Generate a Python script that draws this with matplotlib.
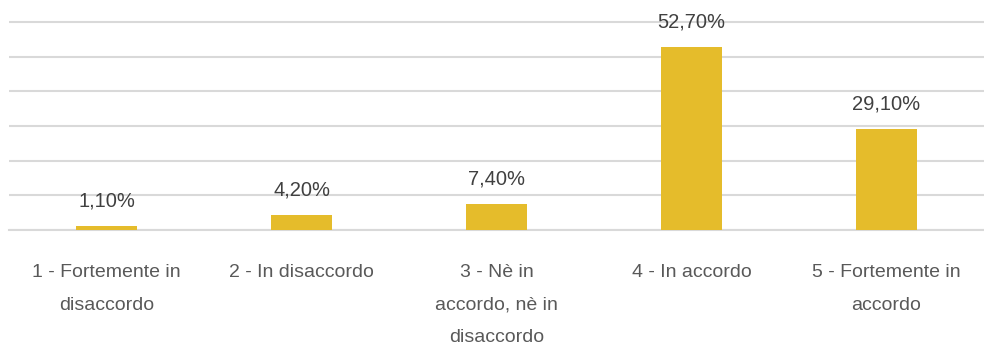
import matplotlib
matplotlib.use("Agg")
import matplotlib.pyplot as plt

categories = ["1 - Fortemente in\ndisaccordo", "2 - In disaccordo",
              "3 - Nè in\naccordo, nè in\ndisaccordo", "4 - In accordo",
              "5 - Fortemente in\naccordo"]
values = [1.1, 4.2, 7.4, 52.7, 29.1]
value_labels = ["1,10%", "4,20%", "7,40%", "52,70%", "29,10%"]

plt.rcParams['font.family'] = ['Liberation Sans', 'DejaVu Sans']

fig = plt.figure(figsize=(9.84, 3.53), dpi=100)
ax = fig.add_axes([9/984, 123/353, 975/984, (208 * 61 / 60)/353])

x = list(range(len(categories)))
ax.bar(x, values, width=0.31, color="#E5BC2B", zorder=3)
ax.set_xlim(-0.5, len(categories) - 0.5)
ax.set_ylim(0, 61)
ax.set_yticks(range(0, 61, 10))
ax.yaxis.grid(True, color="#D9D9D9", linewidth=1.5)
ax.set_axisbelow(True)
ax.tick_params(axis='y', left=False, labelleft=False)
ax.tick_params(axis='x', bottom=False, pad=21)
ax.set_xticks(x)
ax.set_xticklabels(categories, fontsize=14, color="#595959", linespacing=2.2, va='top')
for s in ['top', 'right', 'left']:
    ax.spines[s].set_visible(False)
ax.spines['bottom'].set_color("#D9D9D9")
ax.spines['bottom'].set_linewidth(1.5)

for xi, v, lab in zip(x, values, value_labels):
    ax.annotate(lab, (xi, v), xytext=(0, 14.4), textcoords='offset points',
                ha='center', va='baseline', fontsize=14.5, color="#404040")

fig.savefig("out.png", dpi=100)
